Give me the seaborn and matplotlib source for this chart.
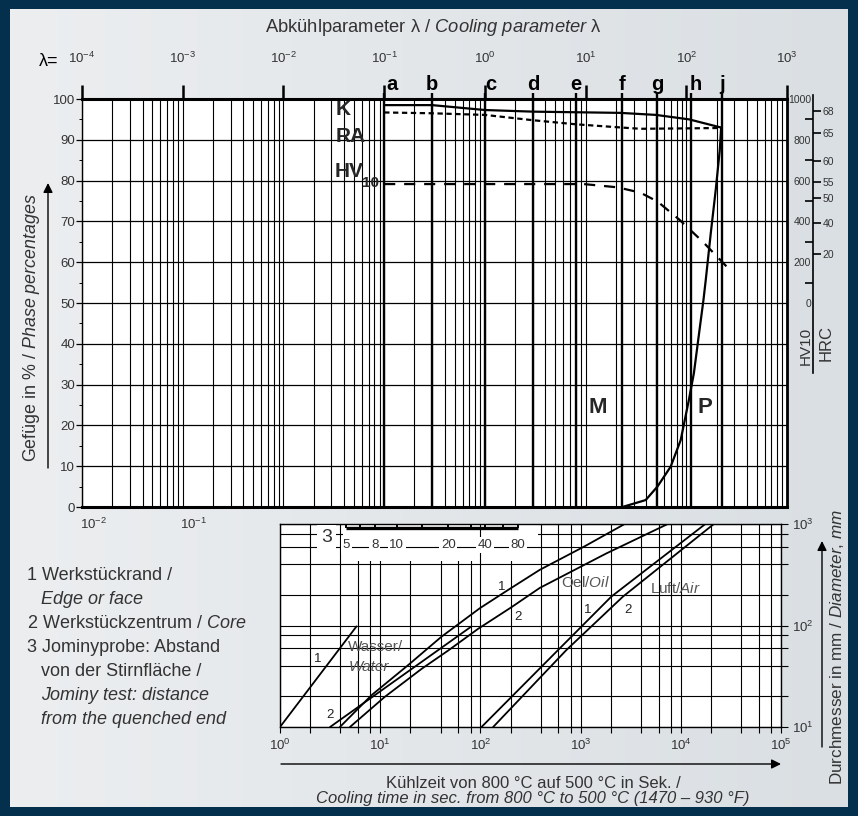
import matplotlib
matplotlib.use('Agg')
import numpy as np
import matplotlib.pyplot as plt
import seaborn as sns
from matplotlib.patches import Rectangle, FancyArrowPatch
from matplotlib.ticker import FixedLocator, NullFormatter
from matplotlib.colors import LinearSegmentedColormap

# ---- upper chart: cooling parameter lambda ----
lam_decades = [1e-4, 1e-3, 1e-2, 1e-1, 1e0, 1e1, 1e2, 1e3]
lam_labels = [r'$10^{-4}$', r'$10^{-3}$', r'$10^{-2}$', r'$10^{-1}$',
              r'$10^{0}$', r'$10^{1}$', r'$10^{2}$', r'$10^{3}$']
time_labels = [r'$10^{-2}$', r'$10^{-1}$']          # bottom scale (t = 100*lambda)

letters = ['a', 'b', 'c', 'd', 'e', 'f', 'g', 'h', 'j']
letter_lam = [0.1, 0.3, 1.0, 3.0, 8.0, 23.0, 51.0, 112.0, 225.0]

k_lam = [0.1, 0.3, 1.0, 3.0, 22.0, 50.0, 107.0, 222.0]
k_pct = [98.5, 98.5, 97.3, 96.9, 96.6, 96.1, 95.0, 93.0]

ra_lam = [0.1, 0.3, 1.0, 3.0, 8.0, 23.0, 35.0, 100.0, 222.0]
ra_pct = [96.7, 96.5, 96.1, 94.8, 93.8, 93.0, 92.7, 92.8, 92.9]

hv_lam = [0.1, 9.6, 20.8, 35.0, 52.0, 86.0, 146.0, 250.0]
hv_val = [583, 583, 567, 541, 497, 407, 300, 180]

p_lam = [23.2, 39.5, 51.7, 70.0, 88.0, 106.0, 119.0, 134.0, 148.0, 156.0,
         175.0, 196.0, 215.0, 222.0]
p_pct = [0.0, 1.7, 5.0, 9.9, 16.4, 26.2, 32.8, 42.6, 50.7, 55.6,
         67.1, 77.7, 87.5, 93.0]

hv_labeled = [0, 200, 400, 600, 800, 1000]
hv_between = [100, 300, 500, 700, 900]
hrc_vals = [68, 65, 60, 55, 50, 40, 20]
hrc_hv = [940, 832, 697, 595, 513, 392, 238]

# ---- lower chart: cooling time vs diameter ----
t_decades = [1e0, 1e1, 1e2, 1e3, 1e4, 1e5]
t_labels = [r'$10^{0}$', r'$10^{1}$', r'$10^{2}$', r'$10^{3}$', r'$10^{4}$', r'$10^{5}$']
d_decades = [1e1, 1e2, 1e3]
d_labels = [r'$10^{1}$', r'$10^{2}$', r'$10^{3}$']

water1_t = [1.0, 5.8]
water1_d = [10, 98]
water2_t = [3.16, 81.5]
water2_d = [10, 98]
oil1_t = [3.96, 8.2, 19.0, 40.9, 98.6, 188.8, 390.8, 1096, 2754]
oil1_d = [10, 20.6, 40.7, 77.6, 147.9, 223.9, 353.2, 602.6, 1000]
oil2_t = [4.99, 11.1, 25.9, 47.6, 94.8, 204, 391, 1807, 7413]
oil2_d = [10, 19.8, 37.4, 56.6, 92.7, 151.4, 234.4, 512.9, 1000]
air1_t = [102.6, 595.7, 2028, 17580]
air1_d = [10, 57.3, 192.8, 1000]
air2_t = [134, 721, 2649, 21380]
air2_d = [10, 57.3, 192.8, 1000]

jominy_mm = [5, 6, 8, 10, 15, 20, 30, 40, 60, 80]
jominy_t = [4.6, 6.3, 8.85, 14.6, 25.9, 47.7, 81.5, 110.6, 168.6, 237.7]
jominy_labeled = [5, 8, 10, 20, 40, 80]

# (text, indented, italic)
notes = [('1 Werkstückrand /', 0, False), ('Edge or face', 1, True),
         (r'2 Werkstückzentrum / $\mathit{Core}$', 0, False), ('3 Jominyprobe: Abstand', 0, False),
         ('von der Stirnfläche /', 1, False), ('Jominy test: distance', 1, True),
         ('from the quenched end', 1, True)]

# ---------------------------------------------------------------
sns.set_theme(style='white')
plt.rcParams['font.family'] = ['Liberation Sans', 'DejaVu Sans']
plt.rcParams['mathtext.fontset'] = 'custom'
plt.rcParams['mathtext.rm'] = 'Liberation Sans'
plt.rcParams['mathtext.it'] = 'Liberation Sans:italic'
plt.rcParams['mathtext.bf'] = 'Liberation Sans:bold'
plt.rcParams['axes.edgecolor'] = 'black'

TXT = '#333333'
W, H = 858, 816


def fx(x):
    return x / W


def fy(y):
    return 1 - y / H


fig = plt.figure(figsize=(W / 100, H / 100), dpi=100)
fig.patch.set_facecolor('#05304d')

bg = fig.add_axes([fx(10), fy(807), 838 / W, 798 / H], zorder=-5)
cmap = LinearSegmentedColormap.from_list('panel', ['#eceef0', '#dadfe3'])
bg.imshow(np.linspace(0, 1, 256)[None, :], aspect='auto', cmap=cmap, extent=[0, 1, 0, 1])
bg.axis('off')

# ---------------- upper chart ----------------
ax = fig.add_axes([fx(82), fy(507), (787 - 82) / W, (507 - 99) / H])
ax.set_facecolor('white')
ax.set_xscale('log')
ax.set_xlim(1e-4, 1e3)
ax.set_ylim(0, 100)
ax.xaxis.set_major_locator(FixedLocator(lam_decades))
ax.xaxis.set_minor_locator(FixedLocator([m * 10.0 ** k for k in range(-4, 3) for m in range(2, 10)]))
ax.xaxis.set_minor_formatter(NullFormatter())
ax.set_xticklabels(lam_labels)
ax.xaxis.tick_top()
ax.tick_params(axis='x', which='major', top=True, bottom=False, length=10, width=1.8,
               color='black', pad=14, labelsize=9.5, labelcolor=TXT)
ax.tick_params(axis='x', which='minor', top=False, bottom=False, length=0)
ax.set_yticks(range(0, 101, 10))
ax.set_yticks(range(5, 100, 10), minor=True)
ax.tick_params(axis='y', which='major', left=True, length=4, width=0.9, pad=1,
               labelsize=9.5, labelcolor=TXT, color='black')
ax.tick_params(axis='y', which='minor', left=True, length=2, width=0.7, color='black')
ax.grid(which='both', axis='x', color='black', lw=0.8)
ax.grid(which='major', axis='y', color='black', lw=0.9)
for side, lw in [('top', 2.2), ('bottom', 2.2), ('left', 1.0), ('right', 2.0)]:
    ax.spines[side].set_linewidth(lw)
    ax.spines[side].set_color('black')

ax.vlines(letter_lam, 0, 101.5, colors='black', lw=1.7, clip_on=False, zorder=3)
letter_dx = {'a': 6, 'c': 4.5, 'h': 3}
for lt, lam in zip(letters, letter_lam):
    ax.annotate(lt, xy=(lam, 101.5), xytext=(letter_dx.get(lt, 0), 2),
                textcoords='offset points', ha='center', va='baseline',
                fontsize=14.5, fontweight='bold', color='black', annotation_clip=False)

sns.lineplot(x=k_lam, y=k_pct, ax=ax, color='black', linewidth=1.6,
             estimator=None, sort=False, legend=False)
sns.lineplot(x=ra_lam, y=ra_pct, ax=ax, color='black', linewidth=1.6,
             estimator=None, sort=False, legend=False)
ax.get_lines()[-1].set_dashes([2.4, 1.6])
sns.lineplot(x=p_lam, y=p_pct, ax=ax, color='black', linewidth=1.6,
             estimator=None, sort=False, legend=False)
ax.set_xlabel('')
ax.set_ylabel('')

ax_hv = ax.twinx()
ax_hv.set_ylim(-1000, 1000)
sns.lineplot(x=hv_lam, y=hv_val, ax=ax_hv, color='black', linewidth=1.6,
             estimator=None, sort=False, legend=False)
ax_hv.get_lines()[-1].set_dashes([5, 4])
ax_hv.set_axis_off()

for lab, lam in zip(time_labels, lam_decades[:2]):
    ax.annotate(lab, xy=(lam, 0), xytext=(8, -7), textcoords='offset points',
                ha='center', va='top', fontsize=9.5, color=TXT, annotation_clip=False)

ax.text(0.039, 97.4, 'K', ha='center', va='center', fontsize=15, fontweight='bold')
ax.text(0.047, 90.9, 'RA', ha='center', va='center', fontsize=15, fontweight='bold')
ax.text(0.045, 82.2, 'HV', ha='center', va='center', fontsize=15, fontweight='bold')
ax.text(0.074, 79.3, '10', ha='center', va='center', fontsize=11, fontweight='bold')
ax.text(13.3, 24.5, 'M', ha='center', va='center', fontsize=16, fontweight='bold')
ax.text(154, 24.5, 'P', ha='center', va='center', fontsize=16, fontweight='bold')

# HV10 / HRC scale
ax_s = fig.add_axes([fx(813), fy(507), 0.0001, (507 - 99) / H])
ax_s.set_ylim(-1000, 1000)
ax_s.patch.set_alpha(0)
for s in ['top', 'right', 'bottom']:
    ax_s.spines[s].set_visible(False)
ax_s.spines['left'].set_bounds(-343, 1020)
ax_s.spines['left'].set_linewidth(1.2)
ax_s.set_xticks([])
ax_s.set_yticks(hv_labeled)
ax_s.set_yticklabels([str(v) for v in hv_labeled])
ax_s.set_yticks(hv_between, minor=True)
ax_s.tick_params(axis='y', which='major', left=True, length=0, pad=1.5, labelsize=7.5,
                 labelcolor=TXT)
ax_s.tick_params(axis='y', which='minor', left=True, length=6, width=1.2, color='black')
ax_r = ax_s.twinx()
ax_r.set_ylim(-1000, 1000)
for s in ['top', 'left', 'bottom', 'right']:
    ax_r.spines[s].set_visible(False)
ax_r.set_yticks(hrc_hv)
ax_r.set_yticklabels([str(v) for v in hrc_vals])
ax_r.tick_params(axis='y', right=True, length=6, width=1.2, pad=1, labelsize=7.5,
                 labelcolor=TXT, color='black')
fig.text(fx(806), fy(346), 'HV10', rotation=90, ha='center', va='center', fontsize=11, color=TXT)
fig.text(fx(826), fy(343), 'HRC', rotation=90, ha='center', va='center', fontsize=12, color=TXT)

# ---------------- lower chart ----------------
axl = fig.add_axes([fx(280), fy(727), (781 - 280) / W, (727 - 524) / H])
axl.set_facecolor('white')
axl.set_xscale('log')
axl.set_yscale('log')
axl.set_xlim(1, 1e5)
axl.set_ylim(10, 1000)
axl.xaxis.set_major_locator(FixedLocator(t_decades))
axl.xaxis.set_minor_locator(FixedLocator([m * 10.0 ** k for k in range(0, 5) for m in (2, 4, 6, 8)]))
axl.yaxis.set_major_locator(FixedLocator(d_decades))
axl.yaxis.set_minor_locator(FixedLocator([m * 10.0 ** k for k in range(1, 3) for m in (2, 4, 6, 8)]))
axl.xaxis.set_minor_formatter(NullFormatter())
axl.yaxis.set_minor_formatter(NullFormatter())
axl.set_xticklabels(t_labels)
axl.yaxis.tick_right()
axl.set_yticklabels(d_labels)
axl.tick_params(axis='x', which='both', bottom=True, length=4, width=0.8, pad=4,
                labelsize=9.5, labelcolor=TXT, color='black', direction='out')
axl.tick_params(axis='y', which='both', right=True, left=False, length=5, width=0.8, pad=3,
                labelsize=9.5, labelcolor=TXT, color='black', direction='out')
axl.grid(which='both', color='black', lw=0.8)
for s in axl.spines.values():
    s.set_linewidth(1.0)
    s.set_color('black')

for xs, ys in [(water1_t, water1_d), (water2_t, water2_d), (oil1_t, oil1_d),
               (oil2_t, oil2_d), (air1_t, air1_d), (air2_t, air2_d)]:
    sns.lineplot(x=xs, y=ys, ax=axl, color='black', linewidth=1.3,
                 estimator=None, sort=False, legend=False)
axl.set_xlabel('')
axl.set_ylabel('')

# Jominy scale
axl.add_patch(Rectangle((4.3, 430), 380 - 4.3, 1000 - 430, facecolor='white',
                        edgecolor='none', zorder=1.6))
axl.plot([4.3, 380], [600, 600], color='black', lw=0.8, zorder=1.7)
axl.plot([100, 100], [430, 1000], color='black', lw=0.8, zorder=1.7)
axl.plot([jominy_t[0], jominy_t[-1]], [912, 912], color='black', lw=2.4, zorder=3,
         solid_capstyle='butt')
axl.vlines(jominy_t, 912, 1000, colors='black', lw=1.4, zorder=3)
for mm, tt in zip(jominy_mm, jominy_t):
    if mm in jominy_labeled:
        axl.text(tt, 622, str(mm), ha='center', va='center', fontsize=9.5, color=TXT, zorder=4,
                 bbox=dict(facecolor='white', edgecolor='none', pad=1.2))
axl.text(2.94, 728, '3', ha='center', va='center', fontsize=14, color=TXT, zorder=4,
         bbox=dict(facecolor='white', edgecolor='none', pad=3))

GR = '#555555'
axl.text(2.39, 46.8, '1', ha='center', va='center', fontsize=9.5, color='#222222')
axl.text(3.15, 13.1, '2', ha='center', va='center', fontsize=9.5, color='#222222')
axl.text(4.8, 61, 'Wasser/', ha='left', va='center', fontsize=11, color=GR)
axl.text(4.8, 39, 'Water', ha='left', va='center', fontsize=11, color=GR, style='italic')
axl.text(164, 239, '1', ha='center', va='center', fontsize=9.5, color='#222222')
axl.text(238, 121, '2', ha='center', va='center', fontsize=9.5, color='#222222')
axl.text(640, 268, r'Oel/$\mathit{Oil}$', ha='left', va='center', fontsize=11, color=GR)
axl.text(1186, 142, '1', ha='center', va='center', fontsize=9.5, color='#222222')
axl.text(2972, 142, '2', ha='center', va='center', fontsize=9.5, color='#222222')
axl.text(4900, 234, r'Luft/$\mathit{Air}$', ha='left', va='center', fontsize=11, color=GR)

# ---------------- outer texts and arrows ----------------
fig.text(fx(433), fy(28), r'Abkühlparameter λ / $\mathit{Cooling\ parameter}$ λ',
         ha='center', va='center', fontsize=13.2, color=TXT)
fig.text(fx(49), fy(61), 'λ=', ha='center', va='center', fontsize=13, color='black')
fig.text(fx(32), fy(328), r'Gefüge in % / $\mathit{Phase\ percentages}$', rotation=90,
         ha='center', va='center', fontsize=12.9, color=TXT)
fig.text(fx(837), fy(647), r'Durchmesser in mm / $\mathit{Diameter{,}\ mm}$', rotation=90,
         ha='center', va='center', fontsize=12.3, color=TXT)
fig.text(fx(533), fy(783), 'Kühlzeit von 800 °C auf 500 °C in Sek. /',
         ha='center', va='center', fontsize=12, color=TXT)
fig.text(fx(533), fy(798.5), 'Cooling time in sec. from 800 °C to 500 °C (1470 – 930 °F)',
         ha='center', va='center', fontsize=12, color=TXT, style='italic')

arrow = dict(arrowstyle='-|>', lw=1.0, color='black', mutation_scale=14, shrinkA=0, shrinkB=0)
fig.add_artist(FancyArrowPatch((fx(48), fy(468)), (fx(48), fy(183)),
                               transform=fig.transFigure, **arrow))
fig.add_artist(FancyArrowPatch((fx(822), fy(747)), (fx(822), fy(541)),
                               transform=fig.transFigure, **arrow))
fig.add_artist(FancyArrowPatch((fx(281), fy(764)), (fx(781), fy(764)),
                               transform=fig.transFigure, **arrow))

for i, (line, indent, italic) in enumerate(notes):
    fig.text(fx(27 + 14 * indent), fy(575 + 24 * i), line, ha='left', va='center',
             fontsize=13, color=TXT, style='italic' if italic else 'normal')

fig.savefig('out.png', dpi=100, facecolor=fig.get_facecolor())
